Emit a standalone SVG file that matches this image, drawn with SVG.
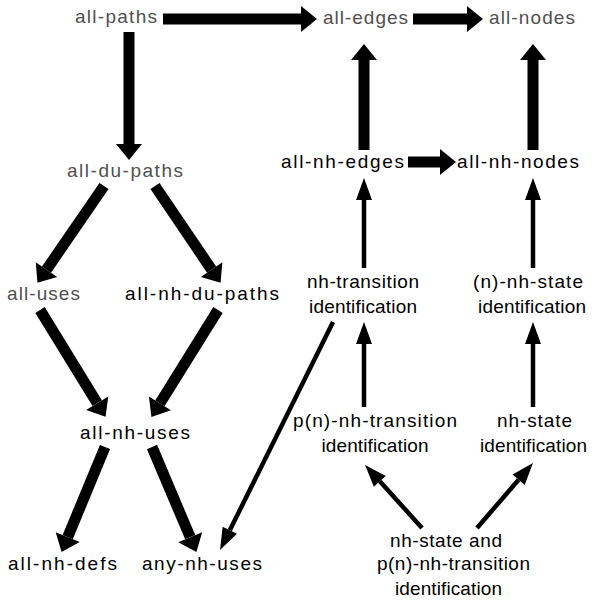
<svg xmlns="http://www.w3.org/2000/svg" width="592" height="602" viewBox="0 0 592 602">
<style>
text{font-family:"Liberation Sans",Arial,sans-serif;font-size:19px;fill:#000;text-anchor:middle}
text.g{fill:#505050}
.thick{stroke:#000;stroke-width:11;fill:none;marker-end:url(#bh)}
.thin{stroke:#000;stroke-width:4.5;fill:none;marker-end:url(#sh)}
</style>
<defs>
<marker id="bh" markerUnits="userSpaceOnUse" markerWidth="16" markerHeight="26" refX="0" refY="13" orient="auto" overflow="visible">
<path d="M0,0 L16,13 L0,26 z" fill="#000"/>
</marker>
<marker id="sh" markerUnits="userSpaceOnUse" markerWidth="22" markerHeight="16" refX="0" refY="8" orient="auto" overflow="visible">
<path d="M0,0 L22,8 L0,16 z" fill="#000"/>
</marker>
</defs>
<rect width="592" height="602" fill="#fff"/>
<g id="connectors">
<line class="thick" x1="163" y1="19" x2="301" y2="19"/>
<line class="thick" x1="413" y1="19" x2="467" y2="19"/>
<line class="thick" x1="129" y1="32" x2="129" y2="144"/>
<line class="thick" x1="364" y1="150" x2="364" y2="60"/>
<line class="thick" x1="533" y1="150" x2="533" y2="60"/>
<line class="thick" x1="408" y1="162" x2="440" y2="162"/>
<line class="thick" x1="104" y1="186" x2="46.5" y2="269.6"/>
<line class="thick" x1="155" y1="186" x2="211.6" y2="269.6"/>
<line class="thick" x1="40" y1="310" x2="97.2" y2="403.2"/>
<line class="thick" x1="218" y1="310" x2="159.9" y2="403.3"/>
<line class="thick" x1="105" y1="447" x2="67.7" y2="537.1"/>
<line class="thick" x1="152" y1="447" x2="190.2" y2="537.2"/>
<line class="thin" x1="364" y1="268" x2="364" y2="200"/>
<line class="thin" x1="533" y1="268" x2="533" y2="200"/>
<line class="thin" x1="364" y1="407" x2="364" y2="344"/>
<line class="thin" x1="533" y1="407" x2="533" y2="344"/>
<line class="thin" x1="333" y1="322" x2="229.8" y2="530.3"/>
<line class="thin" x1="422" y1="528" x2="379.8" y2="481.3"/>
<line class="thin" x1="477" y1="528" x2="518.6" y2="479.7"/>
</g>
<g id="all-paths"><text class="g" x="116" y="23" textLength="82">all-paths</text></g>
<g id="all-edges"><text class="g" x="365.5" y="24" textLength="85">all-edges</text></g>
<g id="all-nodes"><text class="g" x="532" y="24" textLength="86">all-nodes</text></g>
<g id="all-du-paths"><text class="g" x="125" y="177" textLength="116">all-du-paths</text></g>
<g id="all-nh-edges"><text x="342.5" y="168" textLength="123">all-nh-edges</text></g>
<g id="all-nh-nodes"><text x="518" y="168" textLength="122">all-nh-nodes</text></g>
<g id="all-uses"><text class="g" x="43.5" y="300" textLength="73">all-uses</text></g>
<g id="all-nh-du-paths"><text x="202" y="300" textLength="154">all-nh-du-paths</text></g>
<g id="nh-transition-identification"><text x="363" y="288" textLength="112">nh-transition</text><text x="363" y="313" textLength="108">identification</text></g>
<g id="n-nh-state-identification"><text x="528" y="288" textLength="110">(n)-nh-state</text><text x="532" y="313" textLength="108">identification</text></g>
<g id="all-nh-uses"><text x="135" y="439" textLength="110">all-nh-uses</text></g>
<g id="pn-nh-transition-identification"><text x="375" y="427" textLength="164">p(n)-nh-transition</text><text x="375" y="452" textLength="107">identification</text></g>
<g id="nh-state-identification"><text x="534.5" y="427" textLength="75">nh-state</text><text x="533.5" y="452" textLength="107">identification</text></g>
<g id="all-nh-defs"><text x="62.5" y="570" textLength="109">all-nh-defs</text></g>
<g id="any-nh-uses"><text x="202" y="570" textLength="120">any-nh-uses</text></g>
<g id="nh-state-and-pn-nh-transition-identification"><text x="446" y="547" textLength="112">nh-state and</text><text x="453.5" y="570" textLength="153">p(n)-nh-transition</text><text x="448.5" y="595" textLength="107">identification</text></g>
</svg>
